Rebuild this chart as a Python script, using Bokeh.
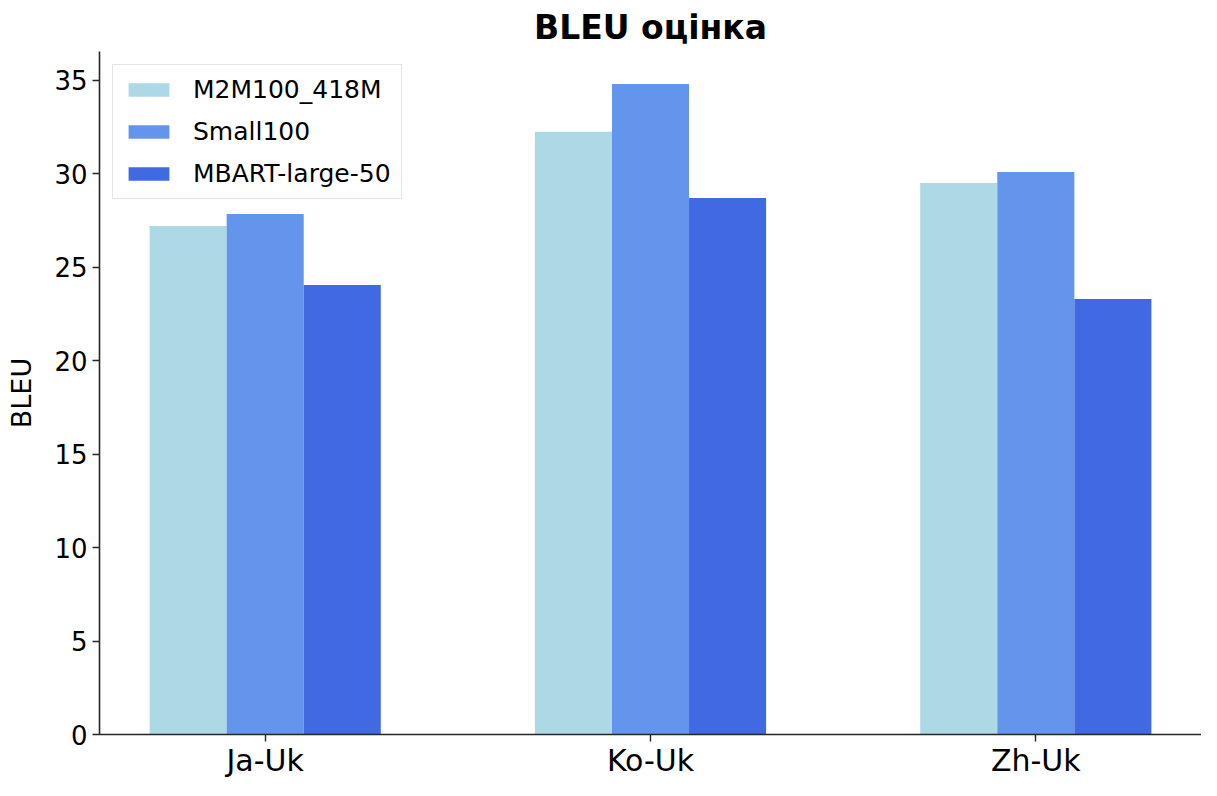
from bokeh.plotting import figure
from bokeh.models import ColumnDataSource, FixedTicker, Legend, LegendItem, Range1d
from bokeh.embed import file_html
from bokeh.resources import INLINE

categories = ["Ja-Uk", "Ko-Uk", "Zh-Uk"]
series_names = ["M2M100_418M", "Small100", "MBART-large-50"]
m2m100 = [27.2, 32.25, 29.5]
small100 = [27.85, 34.8, 30.1]
mbart = [24.05, 28.7, 23.3]
colors = ["#ADD8E6", "#6495ED", "#4169E1"]
y_ticks = [0, 5, 10, 15, 20, 25, 30, 35]

FONT = "DejaVu Sans"
bar_w = 0.2
offsets = [-0.2, 0.0, 0.2]

p = figure(width=1201, height=780, output_backend="svg", toolbar_location=None,
           x_range=Range1d(-0.43, 2.43), y_range=Range1d(0, 36.54),
           min_border_left=99, min_border_right=0, min_border_bottom=40, min_border_top=51)

p.title.text = "BLEU оцінка"
p.title.text_font = FONT
p.title.text_font_size = "33px"
p.title.text_font_style = "bold"
p.title.align = "center"
p.title.standoff = 9
p.title.text_color = "black"

items = []
for name, vals, col, off in zip(series_names, [m2m100, small100, mbart], colors, offsets):
    src = ColumnDataSource(dict(x=[i + off for i in range(len(categories))], top=vals))
    r = p.vbar(x="x", top="top", bottom=0, width=bar_w, source=src,
               fill_color=col, line_color=None)
    items.append(LegendItem(label=name, renderers=[r]))

legend = Legend(items=items, location="top_left", margin=13, padding=10,
                label_text_font=FONT, label_text_font_size="25px", label_text_color="black",
                glyph_width=51, glyph_height=17, label_height=25, spacing=13,
                label_standoff=19, border_line_color="#cccccc", border_line_width=1.5,
                background_fill_alpha=0.8)
p.add_layout(legend)

p.xgrid.visible = False
p.ygrid.visible = False
p.outline_line_color = None

p.xaxis.ticker = FixedTicker(ticks=list(range(len(categories))))
p.xaxis.major_label_overrides = {i: c for i, c in enumerate(categories)}
p.yaxis.ticker = FixedTicker(ticks=y_ticks)

for ax in (p.xaxis, p.yaxis):
    ax.axis_line_color = "#262626"
    ax.axis_line_width = 1.6
    ax.major_tick_line_color = "#262626"
    ax.major_tick_line_width = 1.4
    ax.major_tick_out = 7
    ax.major_tick_in = 0
    ax.minor_tick_line_color = None
    ax.major_label_text_font = FONT
    ax.major_label_text_color = "black"

p.xaxis.major_label_text_font_size = "30px"
p.xaxis.major_label_standoff = 1
p.yaxis.major_label_text_font_size = "26px"
p.yaxis.major_label_standoff = 5
p.yaxis.axis_label = "BLEU"
p.yaxis.axis_label_text_font = FONT
p.yaxis.axis_label_text_font_size = "27px"
p.yaxis.axis_label_text_font_style = "normal"
p.yaxis.axis_label_text_color = "black"
p.yaxis.axis_label_standoff = 14

open("out.html", "w").write(file_html(p, INLINE))
